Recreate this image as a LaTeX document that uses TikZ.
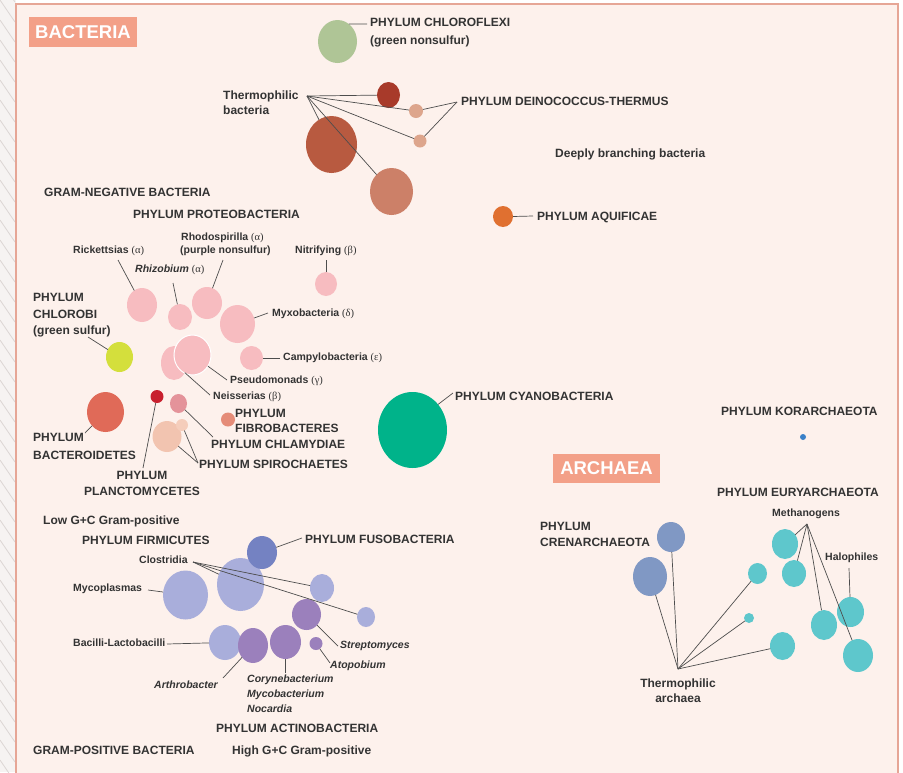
\documentclass[tikz,border=0pt]{standalone}
\usepackage{fontspec}
\setmainfont{Liberation Sans}
\newfontfamily\grk{Liberation Serif}
\usetikzlibrary{shapes.geometric}
\definecolor{panel}{HTML}{FDF1EC}
\definecolor{pborder}{HTML}{E6A696}
\definecolor{stripbg}{HTML}{F6F3F2}
\definecolor{hatchc}{HTML}{DCD6D4}
\definecolor{txt}{HTML}{333333}
\definecolor{lnc}{HTML}{4D4D4D}
\definecolor{boxfill}{HTML}{F3A088}
\definecolor{cgreen}{HTML}{AFC596}
\definecolor{cdred}{HTML}{A83A2A}
\definecolor{ctan}{HTML}{DDA58C}
\definecolor{crust}{HTML}{B85A40}
\definecolor{clrust}{HTML}{CC8068}
\definecolor{corange}{HTML}{E07030}
\definecolor{cpink}{HTML}{F7BCC0}
\definecolor{cyellow}{HTML}{D4DF3C}
\definecolor{csalmon}{HTML}{E06A58}
\definecolor{cred}{HTML}{C8202E}
\definecolor{cchlam}{HTML}{E4939A}
\definecolor{cfib}{HTML}{E58C78}
\definecolor{cpeach}{HTML}{F2C4B0}
\definecolor{cpeach2}{HTML}{F5CDBB}
\definecolor{cteal}{HTML}{00B38A}
\definecolor{cblue}{HTML}{3A80C8}
\definecolor{ccren}{HTML}{8098C4}
\definecolor{ccyan}{HTML}{5EC7CC}
\definecolor{cfuso}{HTML}{7482C2}
\definecolor{cfirm}{HTML}{A9AEDB}
\definecolor{cactino}{HTML}{9B80BC}
\newcommand{\gk}[1]{{\grk\mdseries(#1)}}
\begin{document}
\begin{tikzpicture}[x=1pt,y=-1pt,
  lab/.style={inner sep=0pt, anchor=west, text=txt, text height=8.6pt, text depth=0pt,
    font=\bfseries\fontsize{12}{14}\selectfont},
  sm/.style={lab, text height=7.5pt, font=\bfseries\fontsize{10.5}{12}\selectfont},
  smit/.style={lab, text height=7.5pt, font=\bfseries\itshape\fontsize{10.5}{12}\selectfont},
  bub/.style n args={2}{ellipse, inner sep=0pt, outer sep=0pt, minimum width=#1, minimum height=#2, draw=none},
  con/.style={draw=lnc, line width=0.7pt},
  title/.style={fill=boxfill, text=white, inner sep=0pt, font=\bfseries\fontsize{18.5}{20}\selectfont}]
\useasboundingbox (0,0) rectangle (903,772);
\fill[white] (0,0) rectangle (903,772);
\fill[stripbg] (0,0) rectangle (16,772);
\begin{scope}
  \clip (0,0) rectangle (15,772);
  \foreach \k in {-3,...,40} \draw[hatchc, line width=0.8pt] (0,\k*20) -- (15,\k*20+22);
\end{scope}
\draw[fill=panel, draw=pborder, line width=1.5pt] (16,790) -- (16,4) -- (898,4) -- (898,790);

% title boxes
\node[title, minimum width=108, minimum height=30] (bact) at (83,32) {BACTERIA};
\node[title, minimum width=107, minimum height=29] (arch) at (606.5,468.5) {ARCHAEA};

% ---------- bubbles ----------
\node[bub={39}{43}, fill=cgreen] (cfx) at (337.5,41.5) {};
\node[bub={23}{26}, fill=cdred] (dr) at (388.5,95) {};
\node[bub={14}{14}, fill=ctan] (tan1) at (416,111) {};
\node[bub={13}{13}, fill=ctan] (tan2) at (420,141) {};
\node[bub={51}{57}, fill=crust] (brust) at (331.5,144.5) {};
\node[bub={43}{47}, fill=clrust] (lrust) at (391.5,191.5) {};
\node[bub={20}{21}, fill=corange] (aqfc) at (503,216.5) {};

\node[bub={30}{34}, fill=cpink] (rickc) at (142,305) {};
\node[bub={24}{26}, fill=cpink] (rhizc) at (180,317) {};
\node[bub={30}{32}, fill=cpink] (rhoc) at (207,303) {};
\node[bub={22}{24}, fill=cpink] (nitc) at (326,284) {};
\node[bub={35}{38}, fill=cpink] (myxc) at (237.5,324) {};
\node[bub={26}{34}, fill=cpink] (neic) at (174,363) {};
\node[bub={37}{40}, fill=cpink, draw=white, line width=1pt] (psec) at (192.5,355) {};
\node[bub={23}{24}, fill=cpink] (camc) at (251.5,358) {};
\node[bub={27}{30}, fill=cyellow] (chlc) at (119.5,357) {};
\node[bub={37}{40}, fill=csalmon] (bctc) at (105.5,412) {};
\node[bub={13}{13}, fill=cred] (plcc) at (157,396.5) {};
\node[bub={17}{19}, fill=cchlam] (chmc) at (178.5,403.5) {};
\node[bub={14}{14}, fill=cfib] (fibc) at (228,419.5) {};
\node[bub={29}{31}, fill=cpeach] (spbc) at (167,436.5) {};
\node[bub={12}{12}, fill=cpeach2] (spsc) at (182,425) {};
\node[bub={69}{76}, fill=cteal] (cyc) at (412.5,430) {};

\node[bub={6}{6}, fill=cblue] (korc) at (803,437) {};
\node[bub={28}{30}, fill=ccren] (crc1) at (671,537) {};
\node[bub={34}{39}, fill=ccren] (crc2) at (650,576.5) {};
\node[bub={26}{30}, fill=ccyan] (mA) at (785,544) {};
\node[bub={24}{27}, fill=ccyan] (mB) at (794,573.5) {};
\node[bub={19}{21}, fill=ccyan] (mC) at (757.5,573.5) {};
\node[bub={10}{10}, fill=ccyan] (mD) at (749,618) {};
\node[bub={25}{28}, fill=ccyan] (mE) at (782.5,646) {};
\node[bub={26}{30}, fill=ccyan] (mF) at (824,625) {};
\node[bub={27}{30}, fill=ccyan] (mG) at (850.5,612) {};
\node[bub={30}{33}, fill=ccyan] (mH) at (858,655.5) {};

\node[bub={47}{53}, fill=cfirm] (clbig) at (240.5,584.5) {};
\node[bub={30}{33}, fill=cfuso] (fusc) at (262,552.5) {};
\node[bub={45}{49}, fill=cfirm] (myc) at (185.5,595) {};
\node[bub={24}{28}, fill=cfirm] (cls1) at (322,588) {};
\node[bub={18}{20}, fill=cfirm] (cls2) at (366,617) {};
\node[bub={29}{31}, fill=cactino] (strc) at (306.5,614.5) {};
\node[bub={13}{13}, fill=cactino] (atoc) at (316,643.5) {};
\node[bub={32}{35}, fill=cfirm] (bacc) at (225,642.5) {};
\node[bub={30}{35}, fill=cactino] (artc) at (253,645.5) {};
\node[bub={31}{34}, fill=cactino] (coryc) at (285.5,642) {};

% ---------- labels ----------
\node[lab] (cfxA) at (370,22) {PHYLUM CHLOROFLEXI};
\node[lab] (cfxB) at (370,40) {(green nonsulfur)};
\node[lab] (thA) at (223,95) {Thermophilic};
\node[lab] (thB) at (223,110) {bacteria};
\node[lab] (dein) at (461,101) {PHYLUM DEINOCOCCUS-THERMUS};
\node[lab] (deep) at (555,153) {Deeply branching bacteria};
\node[lab] (gneg) at (44,192) {GRAM-NEGATIVE BACTERIA};
\node[lab] (proteo) at (133,214) {PHYLUM PROTEOBACTERIA};
\node[lab] (aqf) at (537,216) {PHYLUM AQUIFICAE};
\node[lab] (chlA) at (33,297) {PHYLUM};
\node[lab] (chlB) at (33,314) {CHLOROBI};
\node[lab] (chlC) at (33,330) {(green sulfur)};
\node[lab] (cyano) at (455,396) {PHYLUM CYANOBACTERIA};
\node[lab] (kor) at (721,411) {PHYLUM KORARCHAEOTA};
\node[lab] (fibA) at (235,413) {PHYLUM};
\node[lab] (fibB) at (235,428) {FIBROBACTERES};
\node[lab] (bctA) at (33,437) {PHYLUM};
\node[lab] (bctB) at (33,455) {BACTEROIDETES};
\node[lab] (chlam) at (211,444) {PHYLUM CHLAMYDIAE};
\node[lab] (spiro) at (199,464) {PHYLUM SPIROCHAETES};
\node[lab, anchor=center] (plcA) at (142,475) {PHYLUM};
\node[lab, anchor=center] (plcB) at (142,491) {PLANCTOMYCETES};
\node[lab] (eury) at (717,492) {PHYLUM EURYARCHAEOTA};
\node[lab] (lowgc) at (43,520) {Low G+C Gram-positive};
\node[lab] (crenA) at (540,526) {PHYLUM};
\node[lab] (crenB) at (540,542) {CRENARCHAEOTA};
\node[lab] (firm) at (82,540) {PHYLUM FIRMICUTES};
\node[lab] (fuso) at (305,539) {PHYLUM FUSOBACTERIA};
\node[lab, anchor=center] (tharA) at (678,683) {Thermophilic};
\node[lab, anchor=center] (tharB) at (678,698) {archaea};
\node[lab] (actino) at (216,728) {PHYLUM ACTINOBACTERIA};
\node[lab] (gpos) at (33,750) {GRAM-POSITIVE BACTERIA};
\node[lab] (highgc) at (232,750) {High G+C Gram-positive};

\node[sm] (rick) at (73,250) {Rickettsias \gk{α}};
\node[sm] (rhoA) at (181,237) {Rhodospirilla \gk{α}};
\node[sm] (rhoB) at (180,250) {(purple nonsulfur)};
\node[sm] (nitr) at (295,250) {Nitrifying \gk{β}};
\node[sm] (rhiz) at (135,269) {\textit{Rhizobium} \gk{α}};
\node[sm] (myxo) at (272,313) {Myxobacteria \gk{δ}};
\node[sm] (campy) at (283,357) {Campylobacteria \gk{ε}};
\node[sm] (pseudo) at (230,380) {Pseudomonads \gk{γ}};
\node[sm] (neiss) at (213,396) {Neisserias \gk{β}};
\node[sm] (clos) at (139,560) {Clostridia};
\node[sm] (myco) at (73,588) {Mycoplasmas};
\node[sm] (bacil) at (73,643) {Bacilli-Lactobacilli};
\node[smit] (strep) at (340,645) {Streptomyces};
\node[smit] (atop) at (330,665) {Atopobium};
\node[smit] (arth) at (154,685) {Arthrobacter};
\node[smit] (coryA) at (247,679) {Corynebacterium};
\node[smit] (coryB) at (247,694) {Mycobacterium};
\node[smit] (coryC) at (247,709) {Nocardia};
\node[sm] (metha) at (772,513) {Methanogens};
\node[sm] (halo) at (825,557) {Halophiles};

% ---------- connector ends ----------
\coordinate (cfxL) at (367,24);
\coordinate (thH) at (307,96);
\coordinate (deinP) at (457,102);
\coordinate (aqfL) at (533,216);
\coordinate (rickL) at (118,260);
\coordinate (rhizL) at (173,283);
\coordinate (rhoL) at (223,260);
\coordinate (nitL) at (326,260);
\coordinate (myxL) at (268,313);
\coordinate (camL) at (280,358);
\coordinate (pseL) at (227,380);
\coordinate (neiL) at (210,395);
\coordinate (chlL) at (88,337);
\coordinate (bctL) at (85,433);
\coordinate (plcL) at (143,468);
\coordinate (chmL) at (213,437);
\coordinate (spL) at (198,463);
\coordinate (cyL) at (453,393);
\coordinate (clH) at (193,562);
\coordinate (fusL) at (302,538);
\coordinate (mycL) at (148,590);
\coordinate (strL) at (338,646);
\coordinate (atoL) at (330,663);
\coordinate (bacL) at (167,644);
\coordinate (artL) at (223,678);
\coordinate (coryL) at (285.5,673);
\coordinate (metH) at (807,524);
\coordinate (haloL) at (849,568);
\coordinate (tharH) at (678,669);

% ---------- connectors ----------
\draw[con] (cfx.57) -- (cfxL);
\foreach \t in {dr,tan1,tan2,brust,lrust} \draw[con] (thH) -- (\t);
\draw[con] (deinP) -- (tan1);
\draw[con] (deinP) -- (tan2);
\draw[con] (aqfc.east) -- (aqfL);
\draw[con] (rickL) -- (rickc);
\draw[con] (rhizL) -- (rhizc);
\draw[con] (rhoL) -- (rhoc);
\draw[con] (nitL) -- (nitc);
\draw[con] (myxL) -- (myxc);
\draw[con] (camL) -- (camc);
\draw[con] (pseL) -- (psec);
\draw[con] (neiL) -- (neic);
\draw[con] (chlL) -- (chlc);
\draw[con] (bctL) -- (bctc);
\draw[con] (plcL) -- (plcc);
\draw[con] (chmL) -- (chmc);
\draw[con] (spL) -- (spbc);
\draw[con] (spL) -- (spsc);
\draw[con] (cyc.45) -- (cyL);
\foreach \t in {clbig,cls1,cls2} \draw[con] (clH) -- (\t);
\draw[con] (fusL) -- (fusc);
\draw[con] (mycL) -- (myc);
\draw[con] (strL) -- (strc);
\draw[con] (atoL) -- (atoc);
\draw[con] (bacL) -- (bacc);
\draw[con] (artL) -- (artc);
\draw[con] (coryL) -- (coryc);
\foreach \t in {mA,mB,mF,mH} \draw[con] (metH) -- (\t);
\draw[con] (haloL) -- (mG);
\foreach \t in {crc1,crc2,mC,mD,mE} \draw[con] (tharH) -- (\t);
\end{tikzpicture}
\end{document}
